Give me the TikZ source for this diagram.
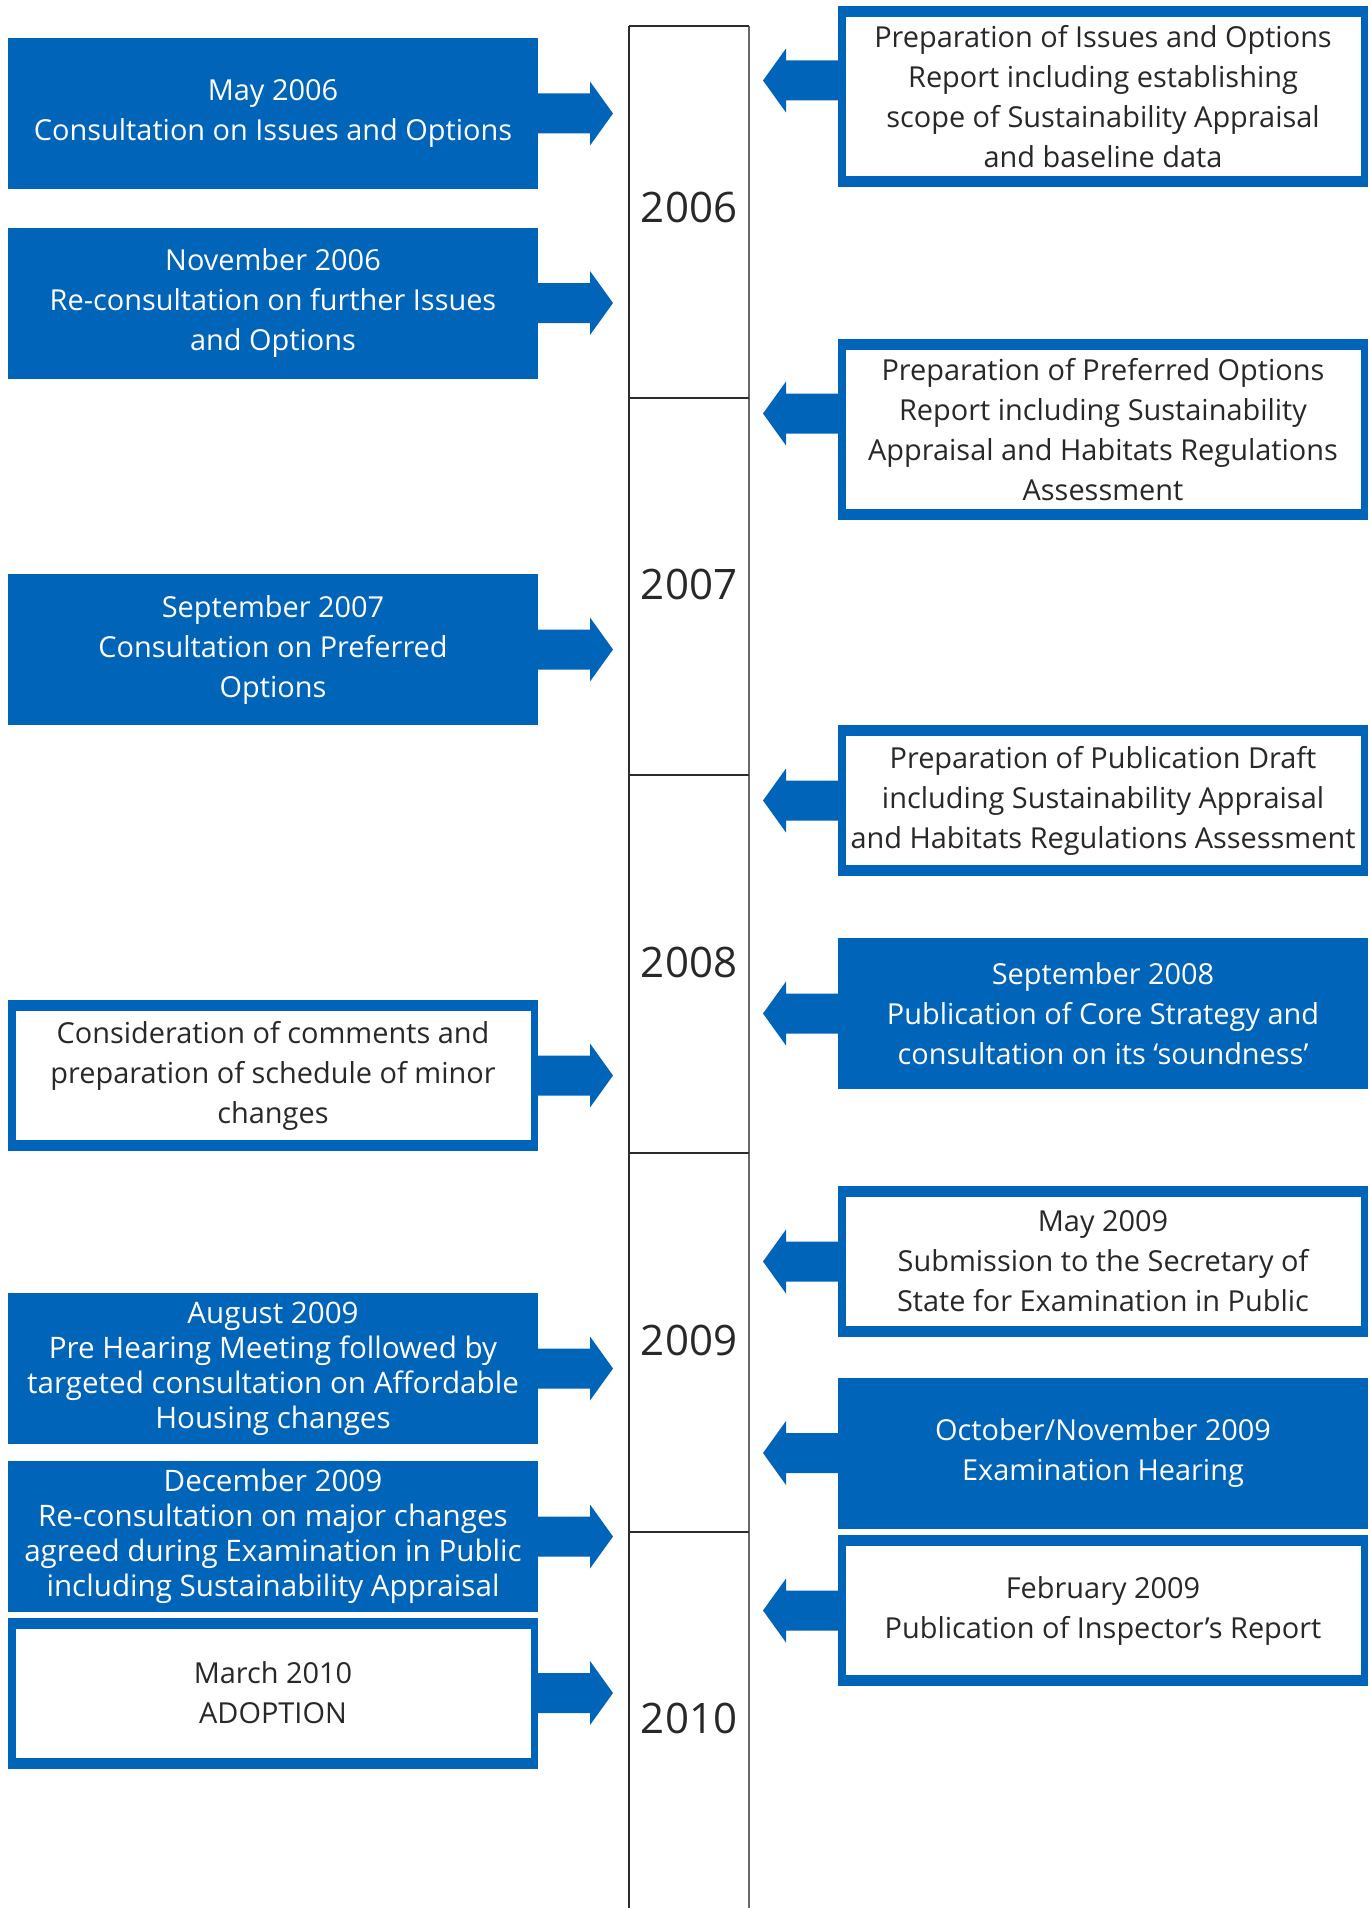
\documentclass[tikz,border=0pt]{standalone}
\usepackage{fontspec}
\setmainfont{Open Sans}
\definecolor{myblue}{RGB}{0,100,185}
\definecolor{textgray}{RGB}{40,40,40}
\definecolor{lineL}{RGB}{45,45,45}
\definecolor{lineR}{RGB}{105,105,105}
\newcommand\bodyfont{\fontsize{28.9}{40}\selectfont}
\newcommand\tightfont{\fontsize{29.6}{35}\selectfont}
\newcommand\yearfont{\fontsize{42}{50}\selectfont}
\newcommand\arrowRight[2][0]{\fill[myblue] (#2.east) ++(0,#1) ++(0,-20) -- ++(52,0) -- ++(0,-12) -- ++(23,32) -- ++(-23,32) -- ++(0,-12) -- ++(-52,0) -- cycle;}
\newcommand\arrowLeft[2][0]{\fill[myblue] (#2.west) ++(0,#1) ++(0,-20) -- ++(-52,0) -- ++(0,-12) -- ++(-23,32) -- ++(23,32) -- ++(0,-12) -- ++(52,0) -- cycle;}
\begin{document}
\begin{tikzpicture}[x=1pt,y=-1pt,
  boxbase/.style={inner sep=0pt, outer sep=0pt, minimum width=530pt, minimum height=151pt, align=center, font=\bodyfont, fill=myblue},
  bluebox/.style={boxbase, text=white},
  whitebox/.style={boxbase, text=textgray,
    path picture={\fill[white] ([shift={(7.5pt,-11pt)}]path picture bounding box.north west) rectangle ([shift={(-7.5pt,11pt)}]path picture bounding box.south east);}},
  year/.style={font=\yearfont, text=textgray, inner sep=0pt}
]
\useasboundingbox (0,0) rectangle (1370,1908);
% timeline
\draw[lineL, line width=1.6pt] (629,26) -- (629,1908);
\draw[lineR, line width=2pt] (749,26) -- (749,1908);
\draw[lineL, line width=1.5pt] (629,26) -- (749,26);
\foreach \yy in {398,775,1153,1532}{\draw[lineL, line width=1.5pt] (629,\yy) -- (749,\yy);}
\node[year] (y2006) at (689,207) {2006};
\node[year] (y2007) at (689,584) {2007};
\node[year] (y2008) at (689,962) {2008};
\node[year] (y2009) at (689,1340) {2009};
\node[year] (y2010) at (689,1718) {2010};
% left boxes
\node[bluebox] (L1) at (273,113.5) {May 2006\\Consultation on Issues and Options};
\node[bluebox] (L2) at (273,303) {November 2006\\Re-consultation on further Issues\\and Options};
\node[bluebox] (L3) at (273,649.5) {September 2007\\Consultation on Preferred\\Options};
\node[whitebox] (L4) at (273,1075.5) {Consideration of comments and\\preparation of schedule of minor\\changes};
\node[bluebox, font=\tightfont] (L5) at (273,1368.5) {August 2009\\Pre Hearing Meeting followed by\\targeted consultation on Affordable\\Housing changes};
\node[bluebox, font=\tightfont] (L6) at (273,1536.5) {December 2009\\Re-consultation on major changes\\agreed during Examination in Public\\including Sustainability Appraisal};
\node[whitebox] (L7) at (273,1693) {March 2010\\ADOPTION};
% right boxes
\node[whitebox, minimum height=181pt] (R1) at (1103,96.5) {Preparation of Issues and Options\\Report including establishing\\scope of Sustainability Appraisal\\and baseline data};
\node[whitebox, minimum height=181pt] (R2) at (1103,429.5) {Preparation of Preferred Options\\Report including Sustainability\\Appraisal and Habitats Regulations\\Assessment};
\node[whitebox] (R3) at (1103,800.5) {Preparation of Publication Draft\\including Sustainability Appraisal\\and Habitats Regulations Assessment};
\node[bluebox] (R4) at (1103,1013.5) {September 2008\\Publication of Core Strategy and\\consultation on its ‘soundness’};
\node[whitebox] (R5) at (1103,1261.5) {May 2009\\Submission to the Secretary of\\State for Examination in Public};
\node[bluebox] (R6) at (1103,1453) {October/November 2009\\Examination Hearing};
\node[whitebox] (R7) at (1103,1610.5) {February 2009\\Publication of Inspector’s Report};
% arrows
\arrowRight{L1}
\arrowRight{L2}
\arrowRight{L3}
\arrowRight{L4}
\arrowRight{L5}
\arrowRight{L6}
\arrowRight{L7}
\arrowLeft[-16]{R1}
\arrowLeft[-16]{R2}
\arrowLeft{R3}
\arrowLeft{R4}
\arrowLeft{R5}
\arrowLeft{R6}
\arrowLeft{R7}
\end{tikzpicture}
\end{document}
